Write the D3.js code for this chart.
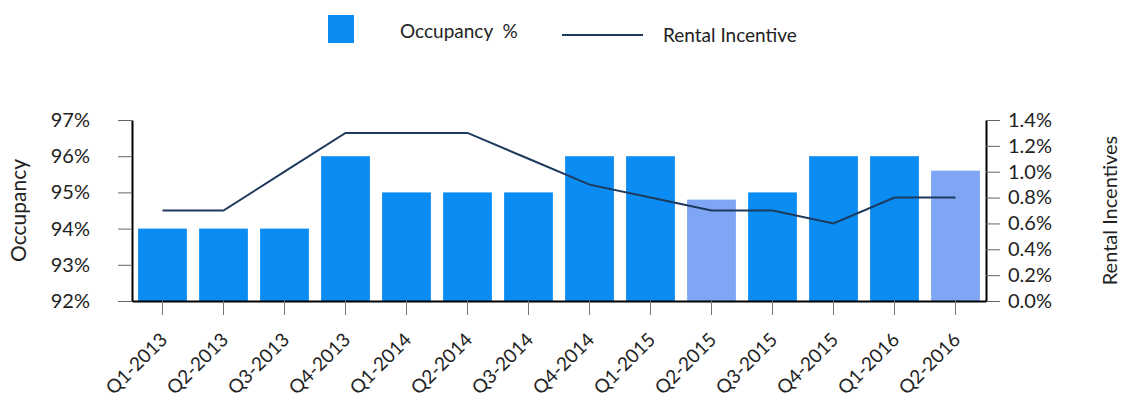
<!DOCTYPE html>
<html>
<head>
<meta charset="utf-8">
<script src="https://cdn.jsdelivr.net/npm/d3@7"></script>
<style>
  body { margin: 0; background: #ffffff; }
  svg { display: block; }
</style>
</head>
<body>
<div id="chart"></div>
<script>
// data
var quarters = ["Q1-2013", "Q2-2013", "Q3-2013", "Q4-2013", "Q1-2014", "Q2-2014", "Q3-2014",
  "Q4-2014", "Q1-2015", "Q2-2015", "Q3-2015", "Q4-2015", "Q1-2016", "Q2-2016"];
var occupancy = [94, 94, 94, 96, 95, 95, 95, 96, 96, 94.8, 95, 96, 96, 95.6];
var incentive = [0.7, 0.7, 1.0, 1.3, 1.3, 1.3, 1.1, 0.9, 0.8, 0.7, 0.7, 0.6, 0.8, 0.8];
var lightBars = ["Q2-2015", "Q2-2016"];
var occTicks = [92, 93, 94, 95, 96, 97];
var incTicks = [0, 0.2, 0.4, 0.6, 0.8, 1.0, 1.2, 1.4];

var width = 1121;
var height = 400;
var plot_left = 132, plot_right = 986, plot_top = 120, plot_bottom = 301;
var color_bar = "#0a8cf2";
var color_bar_light = "#7ea6f4";
var color_line = "#1d3a5c";
var font = "Lato, 'Open Sans', sans-serif";
var color_text = "#222";

var svg = d3.select("#chart").append("svg")
  .attr("width", width)
  .attr("height", height);

var x_scale = d3.scaleBand()
  .domain(quarters)
  .range([plot_left, plot_right])
  .paddingInner(0.2)
  .paddingOuter(0.1);

var y_left = d3.scaleLinear().domain([92, 97]).range([plot_bottom, plot_top]);
var y_right = d3.scaleLinear().domain([0, 1.4]).range([plot_bottom, plot_top]);

//bars
svg.append("g").selectAll("rect")
  .data(quarters)
  .join("rect")
  .attr("x", d => x_scale(d))
  .attr("width", x_scale.bandwidth())
  .attr("y", (d, i) => y_left(occupancy[i]))
  .attr("height", (d, i) => plot_bottom - y_left(occupancy[i]))
  .attr("fill", d => lightBars.includes(d) ? color_bar_light : color_bar);

//line
var line = d3.line()
  .x((d, i) => x_scale(quarters[i]) + x_scale.bandwidth() / 2)
  .y(d => y_right(d));

svg.append("path")
  .datum(incentive)
  .attr("d", line)
  .attr("fill", "none")
  .attr("stroke", color_line)
  .attr("stroke-width", 2);

//axes
var left_axis = d3.axisLeft(y_left).tickValues(occTicks).tickFormat(d => d + "%").tickSize(14).tickSizeOuter(0);
var gl = svg.append("g").attr("transform", "translate(" + plot_left + ",0)").call(left_axis);

var right_axis = d3.axisRight(y_right).tickValues(incTicks).tickFormat(d => d3.format(".1f")(d) + "%").tickSize(14).tickSizeOuter(0);
var gr = svg.append("g").attr("transform", "translate(" + plot_right + ",0)").call(right_axis);

var bottom_axis = d3.axisBottom(x_scale).tickSize(14).tickSizeOuter(0);
var gb = svg.append("g").attr("transform", "translate(0," + plot_bottom + ")").call(bottom_axis);
gb.selectAll(".tick line").attr("stroke", "#777");

[gl, gr, gb].forEach(g => {
  g.selectAll("text")
    .style("font-family", font)
    .style("font-size", "20px")
    .attr("fill", color_text);
  g.select(".domain").attr("stroke", "#000").attr("stroke-width", 2);
});
gb.selectAll(".tick text")
  .attr("x", 0)
  .attr("y", 0)
  .attr("dy", "0")
  .attr("text-anchor", "end")
  .style("font-size", "19px")
  .attr("transform", "translate(6,40) rotate(-45)");
gl.selectAll(".tick line").attr("stroke", "#666");
gr.selectAll(".tick line").attr("stroke", "#666");
gl.selectAll(".tick text").attr("x", -42);
gr.selectAll(".tick text").attr("x", 22);

//axis titles
svg.append("text")
  .attr("transform", "translate(26," + (plot_top + plot_bottom) / 2 + ") rotate(-90)")
  .style("text-anchor", "middle")
  .style("font-family", font)
  .style("font-size", "21px")
  .attr("fill", color_text)
  .text("Occupancy");

svg.append("text")
  .attr("transform", "translate(1117," + (plot_top + plot_bottom) / 2 + ") rotate(-90)")
  .style("text-anchor", "middle")
  .style("font-family", font)
  .style("font-size", "20px")
  .attr("fill", color_text)
  .text("Rental Incentives");

//legend
var key = svg.append("g");
key.append("rect")
  .attr("x", 328).attr("y", 15)
  .attr("width", 26).attr("height", 28)
  .attr("fill", color_bar);
key.append("text")
  .attr("x", 400).attr("y", 38)
  .style("font-family", font)
  .style("font-size", "19px")
  .style("white-space", "pre")
  .attr("fill", color_text)
  .text("Occupancy  %");
key.append("line")
  .attr("x1", 562).attr("x2", 643)
  .attr("y1", 35).attr("y2", 35)
  .attr("stroke", color_line)
  .attr("stroke-width", 2);
key.append("text")
  .attr("x", 663).attr("y", 42)
  .style("font-family", font)
  .style("font-size", "19px")
  .attr("fill", color_text)
  .text("Rental Incentive");
</script>
</body>
</html>
